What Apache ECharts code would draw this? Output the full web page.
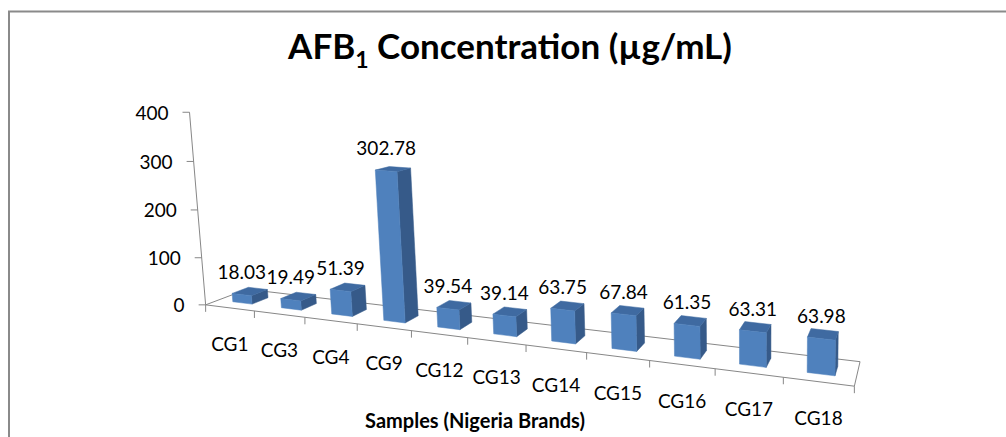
<!DOCTYPE html>
<html><head><meta charset="utf-8">
<script src="https://cdn.jsdelivr.net/npm/echarts@6/dist/echarts.min.js"></script>
<style>html,body{margin:0;padding:0;background:#fff}#c{width:1006px;height:437px}</style>
</head><body><div id="c"></div>
<script>
// ---------- DATA ----------
const categories = ['CG1','CG3','CG4','CG9','CG12','CG13','CG14','CG15','CG16','CG17','CG18'];
const values = [18.03, 19.49, 51.39, 302.78, 39.54, 39.14, 63.75, 67.84, 61.35, 63.31, 63.98];
const yTicks = [0, 100, 200, 300, 400];
const titleMain = 'AFB';
const titleSub = '1';
const titleRest = ' Concentration (\u00B5g/mL)';
const xAxisName = 'Samples (Nigeria Brands)';

// ---------- LAYOUT: screen frame of the 3-D floor and value axis (perspective calibration) ----------
const FLOOR_FRONT = [[206,305],[253,311],[305,317.5],[357,324],[412,331],[468,338],[527,345],[586,352.5],[649,360.5],[715,368.5],[783,377],[855,386]];
const FLOOR_BACK_LEFT = [247,289], FLOOR_BACK_RIGHT = [860,362];
const AXIS_LINE = [[206,305],[202,257],[198,210],[194,162],[189,112]];

const FONT = 'Lato, "Open Sans", sans-serif';
const LABEL_FONT = '19px ' + FONT;
const N = categories.length;
const NT = yTicks.length - 1;

function fitProjection(pts) {
  const ox = 500, oy = 250, s = 300;
  const M = Array.from({length: 11}, () => new Array(11).fill(0));
  const B = new Array(11).fill(0);
  const add = (row, rhs) => { for (let i = 0; i < 11; i++) { B[i] += row[i] * rhs; for (let j = 0; j < 11; j++) M[i][j] += row[i] * row[j]; } };
  for (const [u, v, d, x, y] of pts) {
    const xn = (x - ox) / s, yn = (y - oy) / s;
    add([u, v, d, 1, 0, 0, 0, 0, -xn * u, -xn * v, -xn * d], xn);
    add([0, 0, 0, 0, u, v, d, 1, -yn * u, -yn * v, -yn * d], yn);
  }
  for (let c = 0; c < 11; c++) {
    let piv = c;
    for (let r = c + 1; r < 11; r++) if (Math.abs(M[r][c]) > Math.abs(M[piv][c])) piv = r;
    [M[c], M[piv]] = [M[piv], M[c]]; [B[c], B[piv]] = [B[piv], B[c]];
    for (let r = 0; r < 11; r++) {
      if (r === c) continue;
      const f = M[r][c] / M[c][c];
      if (!f) continue;
      for (let k = c; k < 11; k++) M[r][k] -= f * M[c][k];
      B[r] -= f * B[c];
    }
  }
  const m = B.map((b, i) => b / M[i][i]);
  return (u, v, d) => {
    const w = m[8] * u + m[9] * v + m[10] * d + 1;
    return [((m[0] * u + m[1] * v + m[2] * d + m[3]) / w) * s + ox,
            ((m[4] * u + m[5] * v + m[6] * d + m[7]) / w) * s + oy];
  };
}
const calib = [];
FLOOR_FRONT.forEach((p, i) => calib.push([i, 0, 0, p[0], p[1]]));
calib.push([0, 0, 1, FLOOR_BACK_LEFT[0], FLOOR_BACK_LEFT[1]]);
calib.push([N, 0, 1, FLOOR_BACK_RIGHT[0], FLOOR_BACK_RIGHT[1]]);
AXIS_LINE.forEach((p, i) => { if (i > 0) calib.push([0, i, 0, p[0], p[1]]); });
const P = fitProjection(calib);

const AXIS_COLOR = '#878787';
const FRONT = '#4F81BD', TOP = '#3F6AA1', SIDE = '#365A89';
const HW = 0.2, D0 = 0.3, D1 = 0.7;

function line(a, b) {
  return {type: 'line', shape: {x1: a[0], y1: a[1], x2: b[0], y2: b[1]}, style: {stroke: AXIS_COLOR, lineWidth: 1}};
}
function toUV(params, api, cat, val) {
  const cs = params.coordSys;
  const p = api.coord([cat, val]);
  const p0 = api.coord([cat, 0]);
  const band = api.size([1, 0])[0];
  return {u: (p[0] - cs.x) / band, v: (p0[1] - p[1]) / cs.height * NT};
}

// floor frame + category ticks + value axis line
function floorItem(params, api) {
  const ch = [];
  ch.push(line(P(0, 0, 0), P(N, 0, 0)));
  ch.push(line(P(0, 0, 1), P(N, 0, 1)));
  ch.push(line(P(0, 0, 0), P(0, 0, 1)));
  ch.push(line(P(N, 0, 0), P(N, 0, 1)));
  for (let i = 0; i <= N; i++) {
    const a = P(i, 0, 0);
    ch.push(line(a, [a[0], a[1] + 7]));
  }
  ch.push(line(P(0, 0, 0), P(0, NT, 0)));
  return {type: 'group', children: ch};
}
function yTickItem(params, api) {
  const t = toUV(params, api, 0, api.value(1));
  const a = P(0, t.v, 0);
  return {type: 'group', children: [
    line([a[0] - 7, a[1]], a),
    {type: 'text', x: a[0] - 21, y: a[1], style: {text: String(api.value(1)), font: LABEL_FONT, fill: '#000', align: 'right', verticalAlign: 'middle'}}
  ]};
}
function catLabelItem(params, api) {
  const t = toUV(params, api, api.value(0), 0);
  const a = P(t.u, 0, 0);
  return {type: 'text', x: a[0], y: a[1] + 35.5, style: {text: categories[api.value(0)], font: LABEL_FONT, fill: '#000', align: 'center', verticalAlign: 'middle'}};
}
function barItem(params, api) {
  const t = toUV(params, api, api.value(0), api.value(1));
  const u = t.u, V = t.v;
  const front = [P(u - HW, 0, D0), P(u + HW, 0, D0), P(u + HW, V, D0), P(u - HW, V, D0)];
  const top = [P(u - HW, V, D0), P(u + HW, V, D0), P(u + HW, V, D1), P(u - HW, V, D1)];
  const side = [P(u + HW, 0, D0), P(u + HW, 0, D1), P(u + HW, V, D1), P(u + HW, V, D0)];
  const lab = P(u, V, D0);
  const poly = (pts, c) => ({type: 'polygon', shape: {points: pts}, style: {fill: c, stroke: c, lineWidth: 0.5}});
  return {type: 'group', children: [
    poly(side, SIDE), poly(top, TOP), poly(front, FRONT),
    {type: 'text', x: lab[0], y: lab[1] - 23, style: {text: api.value(1).toFixed(2), font: LABEL_FONT, fill: '#000', align: 'center', verticalAlign: 'middle'}}
  ]};
}

const chart = echarts.init(document.getElementById('c'), null, {renderer: 'svg'});
chart.setOption({
  animation: false,
  backgroundColor: '#fff',
  grid: {left: 200, right: 150, top: 110, bottom: 130},
  xAxis: {type: 'category', data: categories, show: false},
  yAxis: {type: 'value', min: yTicks[0], max: yTicks[NT], interval: yTicks[1] - yTicks[0], show: false},
  graphic: [
    {type: 'polyline', shape: {points: [[9, 437], [9, 11.5], [1006, 11.5]]}, style: {stroke: '#8a8a8a', lineWidth: 2, fill: null}, silent: true},
    {type: 'text', x: 510, y: 20, style: {
      text: '{a|' + titleMain + '}{s|' + titleSub + '}{a|' + titleRest + '}',
      align: 'center', verticalAlign: 'top',
      rich: {
        a: {font: 'bold 35px ' + FONT, fill: '#000', lineHeight: 50},
        s: {font: 'bold 23px ' + FONT, fill: '#000', lineHeight: 23, verticalAlign: 'bottom'}
      }}},
    {type: 'text', x: 475, y: 420, style: {text: xAxisName, font: 'bold 20px ' + FONT, fill: '#000', align: 'center', verticalAlign: 'middle'}}
  ],
  series: [
    {type: 'custom', z: 1, silent: true, renderItem: floorItem, data: [[0, 0]], encode: {x: 0, y: 1}},
    {type: 'custom', z: 2, silent: true, renderItem: yTickItem, data: yTicks.map(t => [0, t]), encode: {x: 0, y: 1}},
    {type: 'custom', z: 2, silent: true, renderItem: catLabelItem, data: categories.map((c, i) => [i, 0]), encode: {x: 0, y: 1}},
    {type: 'custom', z: 3, silent: true, renderItem: barItem, data: values.map((v, i) => [i, v]), encode: {x: 0, y: 1}}
  ]
});
</script></body></html>
